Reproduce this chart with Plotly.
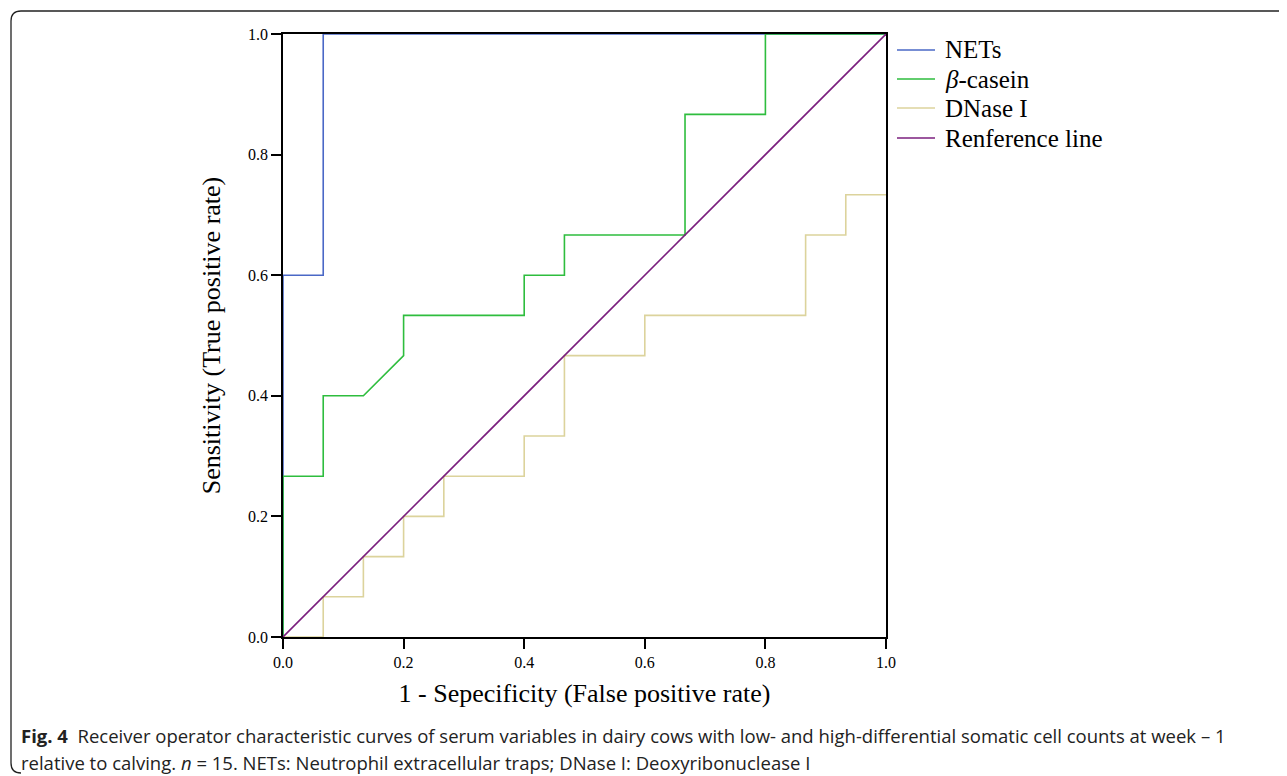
import plotly.graph_objects as go

# ROC curve data (1 - specificity, sensitivity)
nets_fpr = [0.0, 0.0, 0.0667, 0.0667, 1.0]
nets_tpr = [0.0, 0.6, 0.6, 1.0, 1.0]

casein_fpr = [0.0, 0.0, 0.0667, 0.0667, 0.1333, 0.2, 0.2, 0.4, 0.4, 0.4667, 0.4667, 0.6667, 0.6667, 0.8, 0.8, 1.0]
casein_tpr = [0.0, 0.2667, 0.2667, 0.4, 0.4, 0.4667, 0.5333, 0.5333, 0.6, 0.6, 0.6667, 0.6667, 0.8667, 0.8667, 1.0, 1.0]

dnase_fpr = [0.0, 0.0667, 0.0667, 0.1333, 0.1333, 0.2, 0.2, 0.2667, 0.2667, 0.4, 0.4, 0.4667, 0.4667, 0.6, 0.6, 0.8667, 0.8667, 0.9333, 0.9333, 1.0]
dnase_tpr = [0.0, 0.0, 0.0667, 0.0667, 0.1333, 0.1333, 0.2, 0.2, 0.2667, 0.2667, 0.3333, 0.3333, 0.4667, 0.4667, 0.5333, 0.5333, 0.6667, 0.6667, 0.7333, 0.7333]

ref_x = [0.0, 1.0]
ref_y = [0.0, 1.0]

series_names = ["NETs", "<i>β</i>-casein", "DNase I", "Renference line"]
series_colors = ["#4a68c6", "#2ebd3e", "#dcd39c", "#7b1f7e"]

tick_vals = [0.0, 0.2, 0.4, 0.6, 0.8, 1.0]
tick_text = ["0.0", "0.2", "0.4", "0.6", "0.8", "1.0"]

x_title = "1 - Sepecificity (False positive rate)"
y_title = "Sensitivity (True positive rate)"
caption1 = "<b>Fig. 4</b>  Receiver operator characteristic curves of serum variables in dairy cows with low- and high-differential somatic cell counts at week – 1"
caption2 = "relative to calving. <i>n</i> = 15. NETs: Neutrophil extracellular traps; DNase I: Deoxyribonuclease I"

OFF = 8  # page body margin
W, H = 1287 - OFF, 776 - OFF
L, T = 283 - OFF, 34 - OFF
PW, PH = 603, 603
R = W - L - PW
B = H - T - PH

def px(x):  # page pixel -> paper
    return (x - OFF - L) / PW
def py(y):
    return (T + PH - (y - OFF)) / PH

fig = go.Figure()
data = [(nets_fpr, nets_tpr), (casein_fpr, casein_tpr), (dnase_fpr, dnase_tpr), (ref_x, ref_y)]
for (xs, ys), name, col in zip(data, series_names, series_colors):
    fig.add_trace(go.Scatter(x=xs, y=ys, mode="lines", name=name, showlegend=False,
                             line=dict(color=col, width=1.6), cliponaxis=False))

axis_common = dict(
    range=[0, 1], tickvals=tick_vals, ticktext=tick_text,
    showgrid=False, zeroline=False, showline=True, linecolor="black", linewidth=1.6,
    mirror=True, ticks="outside", ticklen=10, tickwidth=1.6, tickcolor="black",
    tickfont=dict(family="Liberation Serif", size=16, color="black"),
)
fig.update_xaxes(**axis_common, title=dict(text=x_title, font=dict(family="Liberation Serif", size=26, color="black"), standoff=14))
fig.update_yaxes(**axis_common, title=dict(text=y_title, font=dict(family="Liberation Serif", size=26, color="black"), standoff=20))

# manual legend
leg_y = [50, 79, 108, 138]
for name, col, yy in zip(series_names, series_colors, leg_y):
    fig.add_shape(type="line", xref="paper", yref="paper",
                  x0=px(897), x1=px(935), y0=py(yy), y1=py(yy),
                  line=dict(color=col, width=1.6))
    fig.add_annotation(text=name, xref="paper", yref="paper", x=px(943), y=py(yy),
                       xanchor="left", yanchor="middle", showarrow=False,
                       font=dict(family="Liberation Serif", size=25, color="black"))

# outer rounded frame
r = 10
path = (f"M {px(1295)},{py(11)} L {px(11+r)},{py(11)} Q {px(11)},{py(11)} {px(11)},{py(11+r)} "
        f"L {px(11)},{py(773-r)} Q {px(11)},{py(773)} {px(11+r)},{py(773)}")
fig.add_shape(type="path", path=path, xref="paper", yref="paper",
              line=dict(color="#222222", width=1.3))

fig.add_annotation(text=caption1, xref="paper", yref="paper", x=px(19), y=py(735),
                   xanchor="left", yanchor="middle", showarrow=False, align="left",
                   font=dict(family="Open Sans", size=18.5, color="#222222"))
fig.add_annotation(text=caption2, xref="paper", yref="paper", x=px(19), y=py(762),
                   xanchor="left", yanchor="middle", showarrow=False, align="left",
                   font=dict(family="Open Sans", size=18.5, color="#222222"))

fig.update_layout(
    width=W, height=H, margin=dict(l=L, r=R, t=T, b=B, autoexpand=False),
    plot_bgcolor="white", paper_bgcolor="white",
    showlegend=False,
)

fig.write_html("out.html")
